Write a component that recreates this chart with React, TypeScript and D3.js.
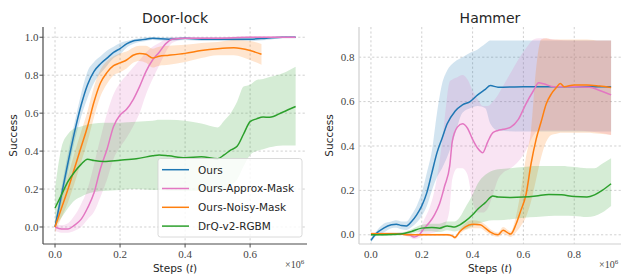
import React from 'react';
import * as d3 from 'd3';

// legend / series names
const seriesNames = ['Ours', 'Ours-Approx-Mask', 'Ours-Noisy-Mask', 'DrQ-v2-RGBM'];
const seriesColors = ['#1f77b4', '#e377c2', '#ff7f0e', '#2ca02c'];

// Door-lock (steps in 1e6)
const doorOursX = [0, 0.02, 0.04, 0.06, 0.08, 0.1, 0.12, 0.14, 0.16, 0.18, 0.2, 0.22, 0.24, 0.26, 0.28, 0.3, 0.35, 0.4, 0.45, 0.5, 0.55, 0.6, 0.65, 0.7, 0.74];
const doorOursY = [0.0, 0.17, 0.34, 0.5, 0.64, 0.75, 0.82, 0.86, 0.89, 0.92, 0.94, 0.965, 0.98, 0.985, 0.99, 0.995, 0.99, 0.995, 0.99, 0.99, 0.99, 0.99, 0.995, 1.0, 1.0];
const doorOursHi = [0.02, 0.21, 0.39, 0.55, 0.7, 0.82, 0.87, 0.9, 0.93, 0.95, 0.97, 0.98, 0.99, 0.995, 1.0, 1.0, 1.0, 1.0, 1.0, 1.0, 1.0, 1.0, 1.0, 1.005, 1.005];
const doorOursLo = [-0.02, 0.13, 0.29, 0.45, 0.58, 0.68, 0.76, 0.81, 0.85, 0.89, 0.91, 0.945, 0.965, 0.975, 0.98, 0.985, 0.98, 0.985, 0.98, 0.98, 0.98, 0.98, 0.985, 0.995, 0.995];

const doorApproxX = [0, 0.02, 0.04, 0.06, 0.08, 0.1, 0.12, 0.14, 0.16, 0.18, 0.2, 0.22, 0.24, 0.26, 0.28, 0.3, 0.32, 0.34, 0.36, 0.4, 0.5, 0.6, 0.7, 0.74];
const doorApproxY = [0.0, -0.01, -0.01, 0.01, 0.04, 0.1, 0.18, 0.31, 0.41, 0.53, 0.59, 0.62, 0.67, 0.74, 0.82, 0.88, 0.92, 0.965, 0.99, 0.995, 0.995, 1.0, 1.0, 1.0];
const doorApproxHi = [0.01, 0.01, 0.02, 0.06, 0.12, 0.2, 0.33, 0.47, 0.6, 0.7, 0.76, 0.8, 0.84, 0.88, 0.92, 0.95, 0.97, 0.99, 1.0, 1.0, 1.0, 1.005, 1.005, 1.005];
const doorApproxLo = [-0.02, -0.03, -0.03, -0.02, 0.0, 0.04, 0.08, 0.16, 0.25, 0.36, 0.42, 0.47, 0.53, 0.6, 0.7, 0.78, 0.85, 0.92, 0.97, 0.99, 0.99, 0.995, 0.995, 0.995];

const doorNoisyX = [0, 0.02, 0.04, 0.06, 0.08, 0.1, 0.12, 0.14, 0.16, 0.18, 0.2, 0.22, 0.24, 0.26, 0.28, 0.3, 0.32, 0.35, 0.4, 0.45, 0.5, 0.55, 0.6, 0.635];
const doorNoisyY = [0.0, 0.1, 0.2, 0.31, 0.42, 0.53, 0.66, 0.76, 0.815, 0.85, 0.865, 0.88, 0.905, 0.915, 0.91, 0.89, 0.9, 0.905, 0.915, 0.93, 0.94, 0.945, 0.93, 0.91];
const doorNoisyHi = [0.03, 0.15, 0.27, 0.39, 0.5, 0.61, 0.74, 0.83, 0.875, 0.9, 0.915, 0.925, 0.945, 0.955, 0.955, 0.94, 0.95, 0.955, 0.96, 0.97, 0.975, 0.985, 0.98, 0.965];
const doorNoisyLo = [-0.03, 0.05, 0.13, 0.23, 0.34, 0.45, 0.58, 0.69, 0.755, 0.8, 0.815, 0.835, 0.865, 0.875, 0.865, 0.84, 0.85, 0.855, 0.87, 0.89, 0.905, 0.905, 0.88, 0.855];

const doorDrqX = [0, 0.02, 0.04, 0.06, 0.08, 0.1, 0.12, 0.15, 0.2, 0.25, 0.3, 0.32, 0.35, 0.4, 0.45, 0.5, 0.52, 0.54, 0.56, 0.58, 0.6, 0.62, 0.64, 0.66, 0.7, 0.74];
const doorDrqY = [0.1, 0.17, 0.24, 0.29, 0.33, 0.357, 0.35, 0.345, 0.352, 0.36, 0.375, 0.38, 0.375, 0.365, 0.37, 0.36, 0.38, 0.405, 0.425, 0.49, 0.555, 0.57, 0.58, 0.578, 0.605, 0.635];
const doorDrqHi = [0.2, 0.42, 0.49, 0.52, 0.53, 0.54, 0.545, 0.55, 0.55, 0.555, 0.56, 0.565, 0.565, 0.56, 0.545, 0.525, 0.56, 0.6, 0.66, 0.74, 0.75, 0.775, 0.78, 0.79, 0.81, 0.845];
const doorDrqLo = [0.0, 0.05, 0.1, 0.14, 0.16, 0.175, 0.185, 0.19, 0.195, 0.2, 0.195, 0.195, 0.19, 0.19, 0.19, 0.185, 0.2, 0.22, 0.25, 0.32, 0.38, 0.4, 0.41, 0.42, 0.43, 0.43];

// Hammer
const hamOursX = [0, 0.02, 0.05, 0.08, 0.1, 0.12, 0.14, 0.16, 0.18, 0.2, 0.22, 0.24, 0.26, 0.28, 0.3, 0.33, 0.36, 0.39, 0.42, 0.45, 0.47, 0.5, 0.6, 0.7, 0.8, 0.9, 0.945];
const hamOursY = [-0.025, 0.005, 0.03, 0.045, 0.048, 0.042, 0.04, 0.06, 0.09, 0.13, 0.19, 0.28, 0.37, 0.435, 0.5, 0.555, 0.585, 0.6, 0.63, 0.655, 0.672, 0.665, 0.667, 0.667, 0.667, 0.667, 0.667];
const hamOursHi = [-0.015, 0.015, 0.05, 0.06, 0.065, 0.06, 0.06, 0.09, 0.13, 0.19, 0.28, 0.38, 0.55, 0.68, 0.74, 0.78, 0.8, 0.82, 0.835, 0.86, 0.875, 0.875, 0.875, 0.875, 0.875, 0.875, 0.875];
const hamOursLo = [-0.035, -0.005, 0.01, 0.03, 0.032, 0.025, 0.022, 0.035, 0.055, 0.085, 0.13, 0.2, 0.26, 0.3, 0.35, 0.45, 0.55, 0.57, 0.58, 0.57, 0.5, 0.47, 0.465, 0.465, 0.465, 0.465, 0.465];

const hamApproxX = [0, 0.05, 0.1, 0.15, 0.17, 0.19, 0.21, 0.23, 0.25, 0.27, 0.29, 0.31, 0.32, 0.34, 0.36, 0.38, 0.4, 0.42, 0.44, 0.46, 0.48, 0.5, 0.52, 0.55, 0.58, 0.61, 0.64, 0.66, 0.68, 0.72, 0.8, 0.86, 0.9, 0.945];
const hamApproxY = [0.005, 0.005, 0.005, 0.0, -0.01, 0.0, 0.03, 0.055, 0.09, 0.14, 0.22, 0.31, 0.42, 0.485, 0.5, 0.48, 0.43, 0.39, 0.37, 0.42, 0.46, 0.47, 0.475, 0.485, 0.52, 0.59, 0.65, 0.685, 0.68, 0.667, 0.667, 0.665, 0.65, 0.63];
const hamApproxHi = [0.01, 0.01, 0.01, 0.01, 0.0, 0.02, 0.07, 0.12, 0.2, 0.33, 0.52, 0.69, 0.7, 0.71, 0.72, 0.7, 0.65, 0.61, 0.58, 0.58, 0.6, 0.63, 0.67, 0.73, 0.79, 0.84, 0.88, 0.885, 0.885, 0.88, 0.875, 0.875, 0.875, 0.875];
const hamApproxLo = [0.0, 0.0, 0.0, -0.01, -0.02, -0.015, 0.0, 0.005, 0.01, 0.02, 0.04, 0.12, 0.25, 0.3, 0.3, 0.27, 0.15, 0.1, 0.1, 0.12, 0.18, 0.25, 0.28, 0.3, 0.33, 0.38, 0.45, 0.47, 0.47, 0.47, 0.47, 0.465, 0.46, 0.45];

const hamNoisyX = [0, 0.05, 0.1, 0.15, 0.2, 0.25, 0.3, 0.32, 0.33, 0.35, 0.37, 0.4, 0.43, 0.45, 0.47, 0.5, 0.52, 0.55, 0.57, 0.59, 0.61, 0.63, 0.65, 0.67, 0.69, 0.71, 0.73, 0.745, 0.76, 0.8, 0.85, 0.9, 0.945];
const hamNoisyY = [0.005, 0.005, 0.005, 0.0, 0.0, 0.0, 0.0, -0.005, -0.012, 0.015, 0.035, 0.048, 0.045, 0.03, 0.012, 0.0, 0.02, 0.003, 0.045, 0.11, 0.18, 0.32, 0.43, 0.51, 0.59, 0.635, 0.664, 0.682, 0.667, 0.675, 0.675, 0.67, 0.664];
const hamNoisyHi = [0.01, 0.01, 0.01, 0.005, 0.005, 0.005, 0.005, 0.0, -0.005, 0.025, 0.05, 0.065, 0.06, 0.045, 0.025, 0.01, 0.035, 0.015, 0.08, 0.2, 0.35, 0.47, 0.75, 0.88, 0.885, 0.88, 0.88, 0.88, 0.88, 0.88, 0.88, 0.875, 0.875];
const hamNoisyLo = [0.0, 0.0, 0.0, -0.005, -0.005, -0.005, -0.005, -0.01, -0.02, 0.005, 0.02, 0.03, 0.03, 0.015, 0.0, -0.01, 0.005, -0.01, 0.01, 0.04, 0.08, 0.15, 0.25, 0.35, 0.42, 0.45, 0.455, 0.46, 0.46, 0.46, 0.46, 0.455, 0.45];

const hamDrqX = [0, 0.05, 0.1, 0.13, 0.16, 0.2, 0.24, 0.27, 0.3, 0.33, 0.35, 0.37, 0.4, 0.42, 0.45, 0.48, 0.5, 0.55, 0.6, 0.65, 0.7, 0.75, 0.8, 0.85, 0.88, 0.91, 0.945];
const hamDrqY = [0.0, 0.0, 0.002, 0.006, 0.015, 0.03, 0.033, 0.03, 0.04, 0.035, 0.045, 0.06, 0.09, 0.115, 0.145, 0.175, 0.17, 0.168, 0.17, 0.175, 0.182, 0.18, 0.172, 0.17, 0.18, 0.2, 0.23];
const hamDrqHi = [0.005, 0.005, 0.008, 0.012, 0.025, 0.045, 0.05, 0.05, 0.06, 0.06, 0.08, 0.12, 0.18, 0.23, 0.27, 0.29, 0.295, 0.3, 0.305, 0.31, 0.31, 0.31, 0.305, 0.3, 0.3, 0.32, 0.345];
const hamDrqLo = [-0.005, -0.005, -0.004, 0.0, 0.005, 0.015, 0.016, 0.012, 0.02, 0.015, 0.02, 0.025, 0.04, 0.05, 0.06, 0.065, 0.065, 0.07, 0.077, 0.08, 0.085, 0.086, 0.085, 0.08, 0.085, 0.1, 0.13];

const doorXTicks = [0, 0.2, 0.4, 0.6];
const doorYTicks = [0, 0.2, 0.4, 0.6, 0.8, 1.0];
const hamXTicks = [0, 0.2, 0.4, 0.6, 0.8];
const hamYTicks = [0, 0.2, 0.4, 0.6, 0.8];

type Pt = { x: number; y: number; lo: number; hi: number };
type Series = { name: string; color: string; pts: Pt[] };

const mk = (i: number, x: number[], y: number[], lo: number[], hi: number[]): Series => ({
  name: seriesNames[i],
  color: seriesColors[i],
  pts: x.map((v, j) => ({ x: v, y: y[j], lo: lo[j], hi: hi[j] })),
});

const doorSeries = [
  mk(0, doorOursX, doorOursY, doorOursLo, doorOursHi),
  mk(1, doorApproxX, doorApproxY, doorApproxLo, doorApproxHi),
  mk(2, doorNoisyX, doorNoisyY, doorNoisyLo, doorNoisyHi),
  mk(3, doorDrqX, doorDrqY, doorDrqLo, doorDrqHi),
];
const hamSeries = [
  mk(0, hamOursX, hamOursY, hamOursLo, hamOursHi),
  mk(1, hamApproxX, hamApproxY, hamApproxLo, hamApproxHi),
  mk(2, hamNoisyX, hamNoisyY, hamNoisyLo, hamNoisyHi),
  mk(3, hamDrqX, hamDrqY, hamDrqLo, hamDrqHi),
];

const SANS = "'DejaVu Sans', sans-serif";
const SERIF = "'Liberation Serif', serif";
const TXT = '#262626';

type PanelProps = {
  title: string;
  series: Series[];
  left: number; right: number; top: number; bottom: number;
  xDomain: [number, number]; yDomain: [number, number];
  xTicks: number[]; yTicks: number[];
  spine: string; tickLen: number;
  legend?: boolean;
};

function Panel(p: PanelProps) {
  const x = d3.scaleLinear().domain(p.xDomain).range([p.left, p.right]);
  const y = d3.scaleLinear().domain(p.yDomain).range([p.bottom, p.top]);
  const area = d3.area<Pt>().x((d) => x(d.x)).y0((d) => y(d.lo)).y1((d) => y(d.hi)).curve(d3.curveMonotoneX);
  const line = d3.line<Pt>().x((d) => x(d.x)).y((d) => y(d.y)).curve(d3.curveMonotoneX);
  const cx = (p.left + p.right) / 2;
  const cy = (p.top + p.bottom) / 2;
  const fmt = d3.format('.1f');
  const clipId = `clip-${p.title}`;

  return (
    <g>
      <defs>
        <clipPath id={clipId}>
          <rect x={p.left} y={p.top} width={p.right - p.left} height={p.bottom - p.top} />
        </clipPath>
      </defs>
      {/* grid */}
      {p.xTicks.map((t) => (
        <line key={`gx${t}`} x1={x(t)} x2={x(t)} y1={p.top} y2={p.bottom} stroke="#c4c4c4" strokeWidth={0.8} strokeDasharray="2.2,2.2" />
      ))}
      {p.yTicks.map((t) => (
        <line key={`gy${t}`} x1={p.left} x2={p.right} y1={y(t)} y2={y(t)} stroke="#c4c4c4" strokeWidth={0.8} strokeDasharray="2.2,2.2" />
      ))}
      <g clipPath={`url(#${clipId})`}>
        {p.series.map((s) => (
          <path key={`a${s.name}`} d={area(s.pts) || ''} fill={s.color} fillOpacity={0.2} stroke="none" />
        ))}
        {p.series.map((s) => (
          <path key={`l${s.name}`} d={line(s.pts) || ''} fill="none" stroke={s.color} strokeWidth={1.5} />
        ))}
      </g>
      {/* spines */}
      <line x1={p.left} x2={p.left} y1={p.top} y2={p.bottom} stroke={p.spine} strokeWidth={1.2} />
      <line x1={p.left} x2={p.right} y1={p.bottom} y2={p.bottom} stroke={p.spine} strokeWidth={1.2} />
      {/* ticks */}
      {p.xTicks.map((t) => (
        <g key={`tx${t}`}>
          {p.tickLen > 0 && <line x1={x(t)} x2={x(t)} y1={p.bottom} y2={p.bottom + p.tickLen} stroke={p.spine} strokeWidth={1} />}
          <text x={x(t)} y={p.bottom + 14} textAnchor="middle" fontFamily={SERIF} fontSize={11} fill="#444">{fmt(t)}</text>
        </g>
      ))}
      {p.yTicks.map((t) => (
        <g key={`ty${t}`}>
          {p.tickLen > 0 && <line x1={p.left - p.tickLen} x2={p.left} y1={y(t)} y2={y(t)} stroke={p.spine} strokeWidth={1} />}
          <text x={p.left - 4.5} y={y(t) + 3.6} textAnchor="end" fontFamily={SERIF} fontSize={11} fill="#444">{fmt(t)}</text>
        </g>
      ))}
      {/* labels */}
      <text x={cx} y={23} textAnchor="middle" fontFamily={SANS} fontSize={14} fill={TXT}>{p.title}</text>
      <text transform={`translate(${p.left - 26},${cy}) rotate(-90)`} textAnchor="middle" fontFamily={SANS} fontSize={10.5} fill={TXT}>Success</text>
      <text x={cx} y={272} textAnchor="middle" fontFamily={SANS} fontSize={10.5} fill={TXT}>
        Steps (<tspan fontFamily={SERIF} fontStyle="italic" fontSize={11.5}>t</tspan>)
      </text>
      <text x={p.right - 22} y={268} fontFamily={SERIF} fontSize={10} fill="#444">
        ×10<tspan fontSize={7} dy={-4}>6</tspan>
      </text>
      {p.legend && (
        <g>
          <rect x={158} y={158.5} width={144} height={78.5} rx={2.5} fill="white" fillOpacity={0.82} stroke="#d0d0d0" strokeWidth={0.8} />
          {p.series.map((s, i) => (
            <g key={`lg${s.name}`}>
              <line x1={162} x2={189} y1={169.7 + i * 18.8} y2={169.7 + i * 18.8} stroke={s.color} strokeWidth={1.5} />
              <text x={198} y={169.7 + i * 18.8 + 3.8} fontFamily={SANS} fontSize={10.5} fill={TXT}>{s.name}</text>
            </g>
          ))}
        </g>
      )}
    </g>
  );
}

export default function App() {
  return (
    <div style={{ position: 'absolute', left: 0, top: 0 }}>
      <svg width={622} height={274} style={{ display: 'block', background: 'white' }}>
        <Panel
          title="Door-lock" series={doorSeries}
          left={43} right={307} top={27} bottom={244}
          xDomain={[-0.037, 0.775]} yDomain={[-0.0896, 1.054]}
          xTicks={doorXTicks} yTicks={doorYTicks}
          spine="#4a4a4a" tickLen={3.5} legend
        />
        <Panel
          title="Hammer" series={hamSeries}
          left={359} right={621} top={27} bottom={244}
          xDomain={[-0.047, 0.984]} yDomain={[-0.0415, 0.936]}
          xTicks={hamXTicks} yTicks={hamYTicks}
          spine="#cfcfcf" tickLen={0}
        />
      </svg>
    </div>
  );
}
